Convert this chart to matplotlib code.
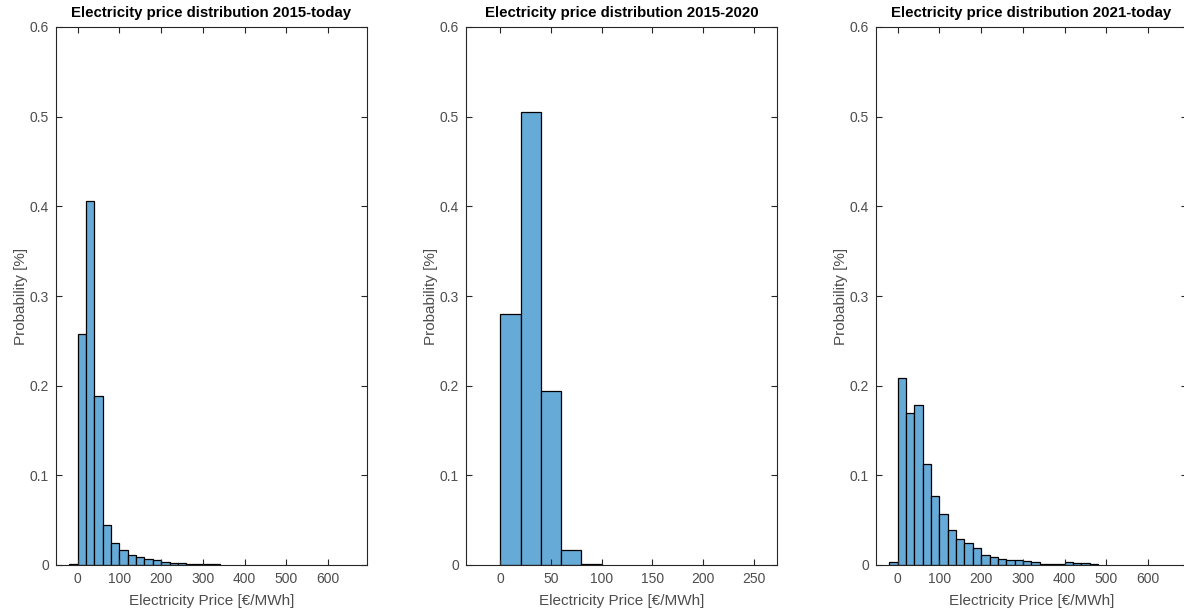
import numpy as np
import matplotlib.pyplot as plt

plt.rcParams['font.family'] = ['Liberation Sans', 'DejaVu Sans']

# bin width 20 EUR/MWh, bin edges
edges_all = list(range(-20, 341, 20))
prob_all = [0.001, 0.258, 0.406, 0.189, 0.045, 0.024, 0.017, 0.011, 0.009,
            0.007, 0.0056, 0.0033, 0.0022, 0.0022, 0.0011, 0.001, 0.001, 0.001]

edges_old = [0, 20, 40, 60, 80, 100]
prob_old = [0.280, 0.505, 0.194, 0.017, 0.001]

edges_new = list(range(-20, 481, 20))
prob_new = [0.0037, 0.2084, 0.1694, 0.178, 0.1125, 0.0765, 0.0568, 0.039, 0.0293,
            0.0245, 0.019, 0.0111, 0.0089, 0.0067, 0.0056, 0.0056, 0.0045, 0.0033,
            0.001, 0.001, 0.001, 0.0037, 0.0026, 0.0026, 0.001]

titles = ['Electricity price distribution 2015-today',
          'Electricity price distribution 2015-2020',
          'Electricity price distribution 2021-today']
xticks_list = [[0, 100, 200, 300, 400, 500, 600],
               [0, 50, 100, 150, 200, 250],
               [0, 100, 200, 300, 400, 500, 600]]
xlims = [(-52, 693), (-34, 273), (-52, 693)]

W, H = 1184, 612
fig = plt.figure(figsize=(W / 100, H / 100), dpi=100)

# matlab default blue with 0.6 alpha on white
face = (0.4, 0.668, 0.845)
axcol = '#262626'

data = [(edges_all, prob_all), (edges_old, prob_old), (edges_new, prob_new)]
for i, (edges, probs) in enumerate(data):
    left = 56 + 410 * i
    ax = fig.add_axes([left / W, (H - 565) / H, 311 / W, 538 / H])
    ax.bar(edges[:-1], probs, width=np.diff(edges), align='edge',
           color=face, edgecolor='black', linewidth=0.9)
    ax.set_xlim(*xlims[i])
    ax.set_ylim(0, 0.6)
    ax.set_xticks(xticks_list[i])
    ax.set_yticks([0, 0.1, 0.2, 0.3, 0.4, 0.5, 0.6])
    ax.set_yticklabels(['0', '0.1', '0.2', '0.3', '0.4', '0.5', '0.6'])
    ax.tick_params(direction='in', top=True, right=True, length=4, width=0.8,
                   colors=axcol, labelcolor='#4d4d4d', labelsize=10, pad=5)
    for s in ax.spines.values():
        s.set_color(axcol)
        s.set_linewidth(0.8)
    ax.set_title(titles[i], fontsize=10.8, fontweight='bold', color='black', pad=7)
    ax.set_xlabel('Electricity Price [€/MWh]', fontsize=11, color='#4d4d4d', labelpad=6)
    ax.set_ylabel('Probability [%]', fontsize=11, color='#4d4d4d', labelpad=1)

fig.savefig('out.png', dpi=100)
